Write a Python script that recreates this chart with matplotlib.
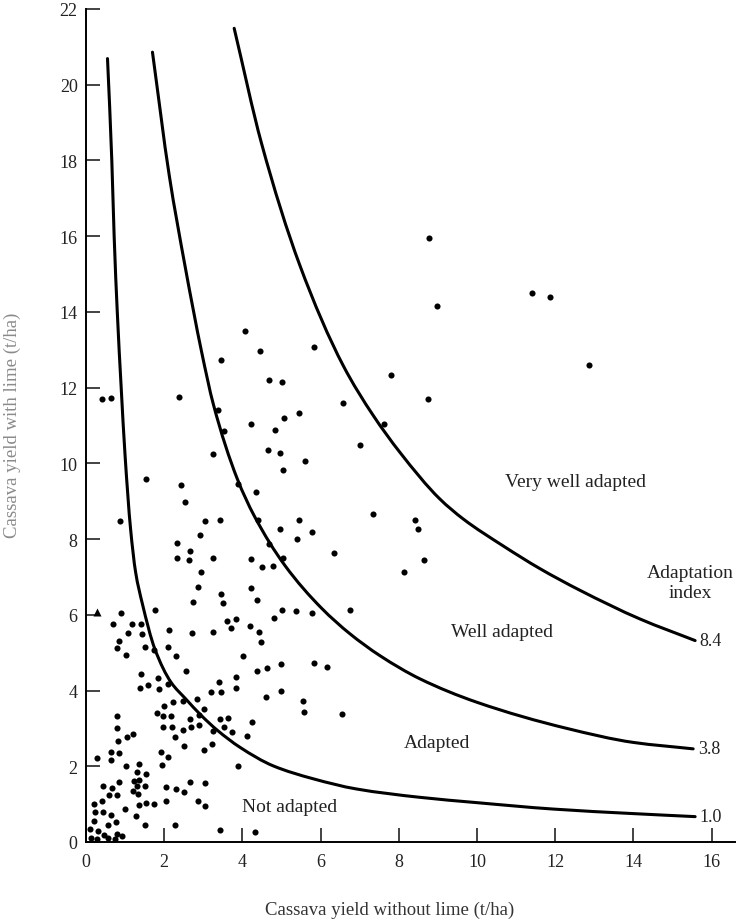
import matplotlib
matplotlib.use("Agg")
import matplotlib.pyplot as plt
from matplotlib.path import Path
from matplotlib.patches import PathPatch

plt.rcParams['font.family'] = ['Liberation Serif', 'DejaVu Serif']

# Field points: cassava yield without lime (x) vs with lime (y), t/ha
pts_x = [
    0.89, 1.77, 2.74, 3.51, 0.70, 1.18, 1.40, 1.07, 1.44, 0.85, 0.80, 1.03, 1.51, 1.74, 2.12, 2.10, 2.29, 2.70,
    3.26, 3.60, 3.83, 3.72, 4.19, 4.01, 2.55, 1.40, 1.37, 1.59, 1.84, 1.86, 2.10, 3.40, 3.84, 3.83, 3.20, 3.45,
    2.48, 2.22, 2.00, 2.83, 3.03, 1.82, 1.96, 2.17, 2.89, 2.66, 3.43, 3.63, 4.25, 0.80, 0.80, 1.98, 2.21, 2.49,
    2.69, 2.89, 3.26, 3.53, 3.73, 1.04, 1.21, 0.83, 2.28, 4.13, 2.51, 3.23,
    3.01, 0.27, 0.63, 0.65, 0.85, 1.03, 1.36, 1.31, 1.54, 1.93, 2.10, 1.95, 3.90, 0.43, 0.66, 0.85, 1.23, 1.36,
    1.31, 1.51, 1.21, 1.34, 0.58, 0.80, 2.04, 2.31, 2.51, 2.66, 3.04, 0.20, 0.42, 1.35, 1.53, 1.75, 2.05, 2.86,
    3.04, 1.01, 0.23, 0.43, 0.65, 1.29, 0.20, 0.56, 0.77, 1.52, 2.27, 3.44,
    0.10, 0.30, 0.45, 0.12, 0.28, 0.55, 0.80, 0.92, 0.75,
    4.38, 5.01, 5.37, 5.78, 6.76, 4.82, 4.42, 4.47, 4.38, 4.62, 5.00, 5.82, 6.17, 4.60, 4.99, 5.56, 5.58, 6.56,
    4.31,
    0.41, 0.65, 2.37, 3.38, 4.23, 3.53, 3.26, 1.53, 2.44, 2.52, 3.89, 0.88, 3.05, 3.43, 2.92, 2.34, 2.66, 2.34,
    2.64, 3.24, 4.23, 2.93, 2.86, 4.23, 3.46,
    8.97, 4.06, 4.45, 5.83, 4.67, 5.01, 7.79, 8.76, 6.58, 5.46, 5.07, 4.83, 7.62, 7.00, 4.65, 4.96, 5.59, 5.03,
    4.34, 4.39, 5.46, 7.34, 8.42, 8.49, 4.96, 5.79, 5.40, 4.68, 5.03, 4.51, 4.79, 6.34, 8.64, 8.14,
    8.77, 11.42, 11.86, 12.86, 3.45,
]
pts_y = [
    6.05, 6.13, 6.34, 6.31, 5.75, 5.75, 5.76, 5.53, 5.50, 5.32, 5.13, 4.95, 5.15, 5.06, 5.59, 5.15, 4.92, 5.53,
    5.55, 5.83, 5.88, 5.66, 5.70, 4.92, 4.51, 4.43, 4.07, 4.14, 4.32, 4.03, 4.17, 4.23, 4.37, 4.08, 3.95, 3.97,
    3.72, 3.69, 3.60, 3.78, 3.51, 3.41, 3.32, 3.32, 3.35, 3.26, 3.25, 3.28, 3.16, 3.34, 3.00, 3.03, 3.05, 2.96,
    3.04, 3.09, 2.93, 3.04, 2.91, 2.78, 2.86, 2.66, 2.76, 2.81, 2.54, 2.59,
    2.44, 2.21, 2.39, 2.17, 2.34, 2.01, 2.05, 1.86, 1.80, 2.39, 2.25, 2.03, 2.01, 1.49, 1.43, 1.59, 1.61, 1.65,
    1.49, 1.49, 1.34, 1.28, 1.25, 1.24, 1.44, 1.41, 1.31, 1.59, 1.57, 1.00, 1.07, 0.99, 1.04, 1.01, 1.07, 1.07,
    0.96, 0.87, 0.78, 0.78, 0.72, 0.69, 0.56, 0.46, 0.52, 0.46, 0.46, 0.32,
    0.35, 0.30, 0.18, 0.10, 0.08, 0.10, 0.22, 0.15, 0.08,
    6.39, 6.12, 6.09, 6.06, 6.14, 5.91, 5.55, 5.27, 4.51, 4.60, 4.69, 4.74, 4.63, 3.83, 3.99, 3.72, 3.44, 3.37,
    0.27,
    11.70, 11.73, 11.75, 11.41, 11.03, 10.85, 10.25, 9.59, 9.42, 8.99, 9.45, 8.49, 8.47, 8.51, 8.12, 7.90, 7.69, 7.50,
    7.46, 7.50, 7.48, 7.14, 6.74, 6.70, 6.54,
    14.15, 13.50, 12.98, 13.07, 12.21, 12.14, 12.34, 11.70, 11.59, 11.33, 11.20, 10.87, 11.03, 10.49, 10.36, 10.27, 10.07, 9.83,
    9.25, 8.51, 8.51, 8.67, 8.51, 8.26, 8.27, 8.19, 8.01, 7.87, 7.51, 7.27, 7.30, 7.64, 7.45, 7.12,
    15.94, 14.49, 14.40, 12.61, 12.73,
]
# the one triangle near the y axis
tri_x = [0.27]
tri_y = [6.08]

# adaptation index curves
c10_x = [0.55, 0.66, 0.72, 0.80, 0.90, 1.00, 1.14, 1.27, 1.44, 1.76, 2.18, 2.55, 2.95, 3.36, 3.94, 4.79,
         5.81, 6.92, 8.54, 9.99, 11.95, 14.0, 15.58]
c10_y = [20.69, 18.0, 16.0, 14.0, 12.0, 10.2, 8.27, 7.12, 6.30, 5.10, 4.21, 3.78, 3.34, 2.95, 2.50, 2.01,
         1.67, 1.40, 1.18, 1.04, 0.87, 0.75, 0.67]
c38_x = [1.70, 2.13, 2.53, 2.96, 3.26, 3.87, 4.30, 5.09, 6.03, 6.75, 7.52, 8.54, 10.0, 12.3, 14.0, 15.53]
c38_y = [20.86, 17.60, 15.23, 12.93, 11.55, 9.59, 8.62, 7.30, 6.17, 5.50, 4.92, 4.31, 3.69, 3.00, 2.63, 2.46]
c84_x = [3.79, 4.49, 5.47, 6.58, 7.35, 8.03, 9.05, 9.65, 10.67, 11.61, 12.63, 14.17, 15.58]
c84_y = [21.49, 18.45, 15.23, 12.58, 11.26, 10.29, 9.06, 8.53, 7.82, 7.22, 6.65, 5.89, 5.32]
curve_labels = ["1.0", "3.8", "8.4"]

x_ticks = list(range(0, 17, 2))
y_ticks = list(range(0, 23, 2))


def smooth_path(xs, ys):
    # monotone cubic (PCHIP-style) through the read points, as Bezier pieces
    n = len(xs)
    h = [xs[i + 1] - xs[i] for i in range(n - 1)]
    d = [(ys[i + 1] - ys[i]) / h[i] for i in range(n - 1)]
    m = [d[0]] + [0.0] * (n - 2) + [d[-1]]
    for i in range(1, n - 1):
        if d[i - 1] * d[i] > 0:
            w1 = 2 * h[i] + h[i - 1]
            w2 = h[i] + 2 * h[i - 1]
            m[i] = (w1 + w2) / (w1 / d[i - 1] + w2 / d[i])
    verts = [(xs[0], ys[0])]
    codes = [Path.MOVETO]
    for i in range(n - 1):
        verts += [(xs[i] + h[i] / 3, ys[i] + m[i] * h[i] / 3),
                  (xs[i + 1] - h[i] / 3, ys[i + 1] - m[i + 1] * h[i] / 3),
                  (xs[i + 1], ys[i + 1])]
        codes += [Path.CURVE4] * 3
    return Path(verts, codes)


fig = plt.figure(figsize=(7.39, 9.2), dpi=100)
ax = fig.add_axes([86 / 739, 77 / 920, 649 / 739, 833 / 920])

for cx, cy, lab in zip([c10_x, c38_x, c84_x], [c10_y, c38_y, c84_y], curve_labels):
    ax.add_patch(PathPatch(smooth_path(cx, cy), fill=False, edgecolor='black', lw=2.2,
                           capstyle='round', joinstyle='round'))
    ax.text(cx[-1] + 0.12, cy[-1], lab, fontsize=13, va='center', ha='left', color='#222222')

ax.plot(pts_x, pts_y, 'o', color='black', ms=4.4, mec='none')
ax.plot(tri_x, tri_y, '^', color='black', ms=6, mec='none')

# region labels
ax.text(12.53, 9.51, "Very well adapted", fontsize=14, ha='center', va='center', color='#222222')
ax.text(10.64, 5.55, "Well adapted", fontsize=14, ha='center', va='center', color='#222222')
ax.text(8.97, 2.64, "Adapted", fontsize=14, ha='center', va='center', color='#222222')
ax.text(5.20, 0.95, "Not adapted", fontsize=14, ha='center', va='center', color='#222222')
ax.text(15.45, 6.85, "Adaptation\nindex", fontsize=14, ha='center', va='center',
        multialignment='center', color='#222222', clip_on=False)

ax.set_xlim(0, 16.6)
ax.set_ylim(0, 22)
ax.set_xticks(x_ticks)
ax.set_yticks(y_ticks)
ax.tick_params(direction='in', length=10, width=1.2, labelsize=13, colors='#222222')
ax.tick_params(axis='x', pad=8)
ax.tick_params(axis='y', pad=6)
ax.spines['top'].set_visible(False)
ax.spines['right'].set_visible(False)
for s in ['left', 'bottom']:
    ax.spines[s].set_linewidth(1.4)

fig.text(390 / 739, 1 - 910 / 920, "Cassava yield without lime (t/ha)", fontsize=13.5,
         ha='center', va='center', color='#333333')
fig.text(12 / 739, 1 - 425 / 920, "Cassava yield with lime (t/ha)", fontsize=13.5,
         ha='center', va='center', rotation=90, color='#8a8a8a')

fig.savefig("out.png", dpi=100)
